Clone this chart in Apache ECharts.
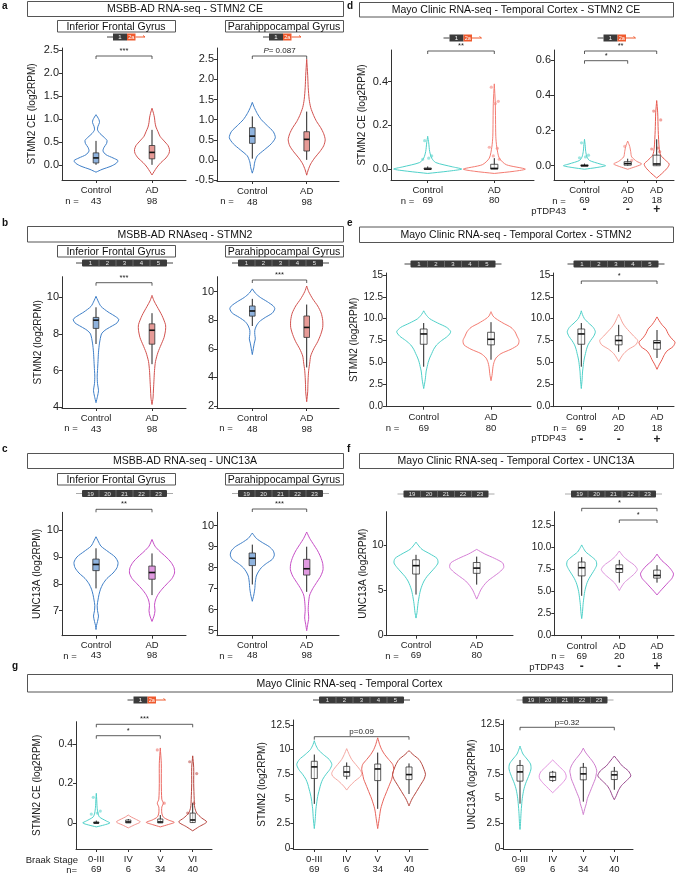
<!DOCTYPE html>
<html>
<head>
<meta charset="utf-8">
<script src="https://cdn.jsdelivr.net/npm/echarts@6.0.0/dist/echarts.min.js"></script>
<style>
  html, body { margin: 0; padding: 0; background: #fff; }
  #main { width: 676px; height: 874px; }
</style>
</head>
<body>
<div id="main"></div>
<script>
// ---------- groups and sample sizes
const msbbCats = ['Control', 'AD'];
const mayoCats = ['Control', 'AD'];
const tdpCats = ['Control', 'AD', 'AD'];
const tdpSigns = ['-', '-', '+'];
const braakCats = ['0-III', 'IV', 'V', 'VI'];
const ifgN = [43, 98];
const phgN = [48, 98];
const mayoN = [69, 80];
const tdpN = [69, 20, 18];
const braakN = [69, 6, 34, 40];

// ---------- box stats [min, q1, median, q3, max]
const ceIfgBox = [[0.0, 0.04, 0.15, 0.26, 0.52], [0.0, 0.13, 0.27, 0.42, 0.76]];
const cePhgBox = [[0.03, 0.41, 0.59, 0.8, 1.08], [0.0, 0.22, 0.51, 0.7, 1.2]];
const stIfgBox = [[7.45, 8.3, 8.75, 8.9, 9.45], [6.35, 7.44, 8.2, 8.55, 9.13]];
const stPhgBox = [[7.6, 8.29, 8.65, 9.0, 9.5], [4.7, 6.8, 7.5, 8.3, 9.1]];
const unIfgBox = [[7.83, 8.49, 8.72, 8.92, 9.32], [7.58, 8.17, 8.42, 8.66, 9.13]];
const unPhgBox = [[7.2, 8.1, 8.45, 8.7, 9.1], [6.85, 7.65, 7.95, 8.4, 9.0]];
const ceMayoBox = [[0, 0, 0, 0.005, 0.012], [0, 0, 0.003, 0.022, 0.05]];
const ceTdpBox = [[0, 0.003, 0.012, 0.023, 0.04], [0, 0, 0.01, 0.06, 0.15]];
const stMayoBox = [[4.5, 7.07, 8.25, 8.82, 9.5], [5.3, 7.0, 7.64, 8.44, 9.6]];
const stTdpBox = [[6.2, 7.0, 7.5, 8.05, 9.3], [5.5, 6.5, 7.25, 7.5, 8.7]];
const unMayoBox = [[4.5, 6.77, 7.7, 8.35, 8.9], [5.6, 6.85, 7.43, 8.05, 8.7]];
const unTdpBox = [[6.0, 7.16, 7.58, 8.03, 8.6], [6.0, 6.52, 6.82, 7.43, 8.0]];
const ceBraakBox = [[0, 0, 0.005, 0.015, 0.02], [0, 0, 0.005, 0.02, 0.04], [0, 0.002, 0.015, 0.05, 0.1]];
const stBraakBox = [[7.0, 7.3, 7.73, 8.3, 8.7], [4.0, 6.86, 8.04, 8.54, 9.7], [5.5, 6.96, 7.47, 8.24, 8.6]];
const unBraakBox = [[6.7, 6.83, 7.2, 7.67, 7.8], [4.7, 6.9, 7.5, 8.16, 8.6], [5.9, 6.93, 7.4, 7.76, 8.2]];

// ---------- visible outlying samples (STMN2 CE, Mayo)
const ceMayoCtrlPts = [0.13, 0.06, 0.05, 0.045];
const ceMayoAdPts = [0.375, 0.31, 0.3, 0.1, 0.095, 0.06, 0.045];
const ceTdpNegPts = [0.11, 0.03];
const ceTdpPosPts = [0.31, 0.26, 0.1, 0.095, 0.08];
const ceBraakVPts = [0.37, 0.1];
const ceBraakVIPts = [0.31, 0.25, 0.1, 0.05];

// ---------- violin outlines [value, relative half width]
const ceIfgCtrlV = [[-0.16,0],[-0.1,6],[-0.03,15],[0.03,20],[0.09,22],[0.15,17],[0.22,10],[0.3,7],[0.38,8],[0.46,10.5],[0.53,11],[0.6,8],[0.68,4],[0.76,1.5],[0.84,2],[0.92,3.5],[0.98,3],[1.04,1.5],[1.09,0]];
const ceIfgAdV = [[-0.22,0],[-0.15,2],[-0.05,5],[0.05,9],[0.15,14],[0.25,17],[0.33,17.5],[0.42,16],[0.52,12],[0.62,8],[0.72,6],[0.82,4],[0.92,3],[1.02,2.5],[1.12,1.5],[1.23,0]];
const cePhgCtrlV = [[-0.33,0],[-0.2,1.5],[-0.05,2.5],[0.1,5],[0.25,12],[0.4,19],[0.55,23],[0.7,21],[0.85,15],[1.0,9],[1.15,5],[1.3,2],[1.43,0]];
const cePhgAdV = [[-0.38,0],[-0.25,1.5],[-0.1,4],[0.05,8],[0.2,13],[0.35,17],[0.5,18.5],[0.65,17],[0.8,14],[0.95,10],[1.1,7],[1.3,4],[1.5,2.5],[1.8,1.5],[2.1,1],[2.5,0]];
const stIfgCtrlV = [[4.25,0],[4.6,1.5],[4.9,2.5],[5.3,1.5],[5.7,1.2],[6,1.5],[6.5,2],[7,2.5],[7.5,3.5],[8,5.5],[8.2,9],[8.4,15],[8.6,21],[8.8,22.7],[9,18],[9.2,12],[9.5,5],[9.8,2],[10.05,0]];
const stIfgAdV = [[4.15,0],[4.5,1],[5,1.5],[5.5,2],[6,2.5],[6.5,3.5],[7,6],[7.4,9],[7.8,12],[8.2,13.5],[8.5,13.5],[9,10],[9.5,5],[9.8,2],[10.1,0]];
const stPhgCtrlV = [[5.6,0],[6,1],[6.4,2],[6.7,3],[7,2.5],[7.3,2.5],[7.6,4],[7.9,7],[8.2,13],[8.5,20],[8.8,22.5],[9,21],[9.3,15],[9.6,8],[9.9,3],[10.2,0]];
const stPhgAdV = [[2.3,0],[3,1],[3.5,1.2],[4,1.5],[4.5,2],[5,3],[5.5,4],[6,7],[6.5,11],[7,14],[7.5,16],[8,16],[8.5,14.5],[9,11],[9.5,6],[10,2],[10.4,0]];
const unIfgCtrlV = [[6.3,0],[6.45,0.5],[6.6,1.5],[6.8,2.5],[7,1.5],[7.2,1.2],[7.4,2],[7.6,3],[7.8,4.5],[8,7],[8.2,11],[8.4,17],[8.6,21],[8.8,22],[9,19],[9.2,12],[9.4,5],[9.6,2],[9.75,0]];
const unIfgAdV = [[6.6,0],[6.8,2],[7,3],[7.2,2.5],[7.4,3.5],[7.6,6],[7.8,10],[8,15],[8.2,20],[8.4,22.5],[8.6,22],[8.8,19],[9,14],[9.2,8],[9.4,3],[9.65,0]];
const unPhgCtrlV = [[6.4,0],[6.7,1.5],[7,2.5],[7.3,3],[7.6,4],[7.8,6],[8,9],[8.2,14],[8.4,20],[8.6,22],[8.8,21],[9,17],[9.2,10],[9.4,4],[9.65,0]];
const unPhgAdV = [[5,0],[5.3,1],[5.6,2],[6,1.5],[6.4,2],[6.7,3],[7,6],[7.3,10],[7.6,14],[7.9,16.3],[8.2,16],[8.5,14],[8.8,11],[9.1,7],[9.4,3],[9.7,0]];
const ceMayoCtrlV = [[-0.02,0],[-0.01,20],[0,34],[0.01,25],[0.03,8],[0.05,4],[0.08,2],[0.12,1],[0.15,0]];
const ceMayoAdV = [[-0.02,0],[-0.01,20],[0,31],[0.02,12],[0.05,5],[0.1,2.5],[0.15,1.5],[0.3,1],[0.39,0]];
const ceTdpNegV = [[-0.02,0],[-0.005,8],[0.01,14],[0.025,9],[0.05,4],[0.08,3],[0.11,2],[0.14,0]];
const ceTdpPosV = [[-0.07,0],[-0.04,6],[-0.01,11],[0.01,12.5],[0.03,9],[0.06,4],[0.1,2.5],[0.2,1.5],[0.3,1],[0.37,0]];
const stMayoCtrlV = [[2,0],[3,1.5],[4,2.5],[4.5,3.5],[5,4.5],[5.5,6],[6,8],[6.5,10],[7,13],[7.5,18],[8,24],[8.5,27],[9,23],[9.5,14],[10,6],[10.5,2],[10.9,0]];
const stMayoAdV = [[2.9,0],[3.5,1],[4,1.5],[4.5,2],[5,3],[5.5,5],[6,10],[6.5,20],[7,27],[7.5,28],[8,26],[8.5,24],[9,20],[9.5,12],[10,5],[10.3,2],[10.8,0]];
const stTdpNegV = [[5.1,0],[5.5,2],[6,5],[6.5,10],[7,17],[7.5,19],[8,15],[8.5,11],[9,7],[9.5,4],[10,2],[10.5,0]];
const stTdpPosV = [[4.2,0],[4.8,2.5],[5.3,5],[5.8,7],[6.3,10],[6.8,16],[7.3,18],[7.8,14],[8.3,11],[8.8,9],[9.3,5],[9.8,2],[10.2,0]];
const unMayoCtrlV = [[1.9,0],[2.5,1],[3.5,2],[4.5,3.5],[5,4.5],[5.5,6],[6,8],[6.5,11],[7,15],[7.5,19],[8,22],[8.5,21],[9,14],[9.5,6],[10,2],[10.3,0]];
const unMayoAdV = [[4,0],[4.5,2],[5,4],[5.5,7],[6,11],[6.5,17],[7,23],[7.5,27],[8,26],[8.5,18],[9,8],[9.5,0]];
const unTdpNegV = [[5.1,0],[5.5,2],[6,5],[6.5,10],[7,15],[7.5,18],[8,15],[8.5,9],[9,4],[9.6,0]];
const unTdpPosV = [[4.6,0],[5,3],[5.5,7],[6,11],[6.5,15],[7,16.5],[7.5,14],[8,10],[8.5,5],[9,1.5],[9.25,0]];
const ceBraakIVV = [[-0.025,0],[-0.01,6],[0.005,12],[0.02,7],[0.03,3],[0.04,0]];
const ceBraakVV = [[-0.02,0],[-0.008,8],[0.003,14],[0.015,8],[0.03,3],[0.05,1.5],[0.08,1.5],[0.1,3],[0.12,1.5],[0.2,1],[0.3,1],[0.38,0]];
const ceBraakVIV = [[-0.04,0],[-0.02,6],[0.005,14],[0.025,9],[0.05,4],[0.08,2],[0.12,1.5],[0.2,1],[0.28,1],[0.34,0]];
const stBraakIVV = [[5.9,0],[6.3,3],[6.8,8],[7.3,14],[7.6,15],[8,13],[8.5,9],[9,5],[9.5,2.5],[10.1,0]];
const stBraakVV = [[2,0],[3,1.5],[4,3],[5,6],[5.5,8],[6,10],[6.5,12],[7,14],[7.5,15],[8,16],[8.5,15],[9,11],[9.5,7],[10,4],[10.5,2],[11.2,0]];
const stBraakVIV = [[4.3,0],[5,3],[5.5,6],[6,9],[6.5,12],[7,15],[7.5,16.5],[8,15],[8.5,13],[9,10],[9.5,4],[9.9,0]];
const unBraakIVV = [[5.6,0],[6,4],[6.5,9],[7,13],[7.3,13.5],[7.7,12],[8.2,7],[8.6,3],[8.9,0]];
const unBraakVV = [[3.4,0],[4,1.5],[4.5,3],[5,4],[5.5,6],[6,8],[6.5,10],[7,12],[7.5,13],[7.8,13.5],[8.3,12],[8.8,9],[9.3,5],[9.7,2],[10.1,0]];
const unBraakVIV = [[4.9,0],[5.3,2],[5.8,4],[6.3,7],[6.8,12],[7.3,16.5],[7.8,14],[8.3,8],[8.8,4],[9.3,0]];

// ---------- styles
const FONT = '"Liberation Sans", Arial, Helvetica, sans-serif';
const cBlue = '#3F7FC8', fBlue = '#8FB3DE', cRed = '#D2514E', fRed = '#E69A96';
const cMag = '#C64CC6', fMag = '#E09AE0';
const cCyan = '#4FD1C9', cSalmon = '#F47C72', cRed2 = '#E85A50';
const cOrchid = '#D67FD6', cOrchidL = '#DD94DD', cMagenta = '#C752C7';
const mayoFill = 'rgba(255,255,255,0.6)';

const f1 = v => v.toFixed(1);
const f0 = v => String(v);

const panels = [
  { left: 62, top: 48, right: 186, bottom: 180, yMin: -0.33, yMax: 2.54, ticks: [0, 0.5, 1, 1.5, 2, 2.5], fmt: f1, fs: 11,
    xs: [96, 152], cats: msbbCats, n: ifgN, violins: [ceIfgCtrlV, ceIfgAdV], boxes: ceIfgBox,
    colors: [cBlue, cRed], fills: [fBlue, fRed], boxHalf: 2.8, lh: 10.7,
    yName: 'STMN2 CE (log2RPM)', nameDist: 30, brackets: [[0, 1, 56, '***']], rows: [['n =', 72, 201, 'center']] },
  { left: 217, top: 48, right: 339, bottom: 181, yMin: -0.525, yMax: 2.78, ticks: [-0.5, 0, 0.5, 1, 1.5, 2, 2.5], fmt: f1, fs: 11,
    xs: [252.3, 306.7], cats: msbbCats, n: phgN, violins: [cePhgCtrlV, cePhgAdV], boxes: cePhgBox,
    colors: [cBlue, cRed], fills: [fBlue, fRed], boxHalf: 2.8, lh: 10.7,
    brackets: [[0, 1, 56, '{i|P}= 0.087']], rows: [['n =', 227, 201, 'center']] },
  { left: 62, top: 276.7, right: 186, bottom: 408, yMin: 3.96, yMax: 11.12, ticks: [4, 6, 8, 10], fmt: f0, fs: 11,
    xs: [96, 152], cats: msbbCats, n: ifgN, violins: [stIfgCtrlV, stIfgAdV], boxes: stIfgBox,
    colors: [cBlue, cRed], fills: [fBlue, fRed], boxHalf: 2.8, lh: 10.7,
    yName: 'STMN2 (log2RPM)', nameDist: 23, brackets: [[0, 1, 282.7, '***']], rows: [['n =', 71, 428, 'center']] },
  { left: 217, top: 276.7, right: 339, bottom: 408, yMin: 1.86, yMax: 11.05, ticks: [2, 4, 6, 8, 10], fmt: f0, fs: 11,
    xs: [252.3, 306.7], cats: msbbCats, n: phgN, violins: [stPhgCtrlV, stPhgAdV], boxes: stPhgBox,
    colors: [cBlue, cRed], fills: [fBlue, fRed], boxHalf: 2.8, lh: 10.7,
    brackets: [[0, 1, 280, '***']], rows: [['n =', 226, 428, 'center']] },
  { left: 62, top: 512.3, right: 186, bottom: 635.7, yMin: 6.07, yMax: 10.66, ticks: [7, 8, 9, 10], fmt: f0, fs: 11,
    xs: [96, 152], cats: msbbCats, n: ifgN, violins: [unIfgCtrlV, unIfgAdV], boxes: unIfgBox,
    colors: [cBlue, cMag], fills: [fBlue, fMag], boxHalf: 3.2, lh: 10,
    yName: 'UNC13A (log2RPM)', nameDist: 24.5, brackets: [[0, 1, 509.3, '**']], rows: [['n =', 70, 656, 'center']] },
  { left: 217, top: 512.3, right: 339, bottom: 635.7, yMin: 4.76, yMax: 10.64, ticks: [5, 6, 7, 8, 9, 10], fmt: f0, fs: 11,
    xs: [252.3, 306.7], cats: msbbCats, n: phgN, violins: [unPhgCtrlV, unPhgAdV], boxes: unPhgBox,
    colors: [cBlue, cMag], fills: [fBlue, fMag], boxHalf: 3.2, lh: 10,
    brackets: [[0, 1, 509, '***']], rows: [['n =', 226, 656, 'center']] },
  { left: 391, top: 50, right: 534, bottom: 180, yMin: -0.05, yMax: 0.545, ticks: [0, 0.2, 0.4], fmt: f1, fs: 11,
    xs: [427.7, 494.3], cats: mayoCats, n: mayoN, violins: [ceMayoCtrlV, ceMayoAdV], boxes: ceMayoBox,
    pts: [ceMayoCtrlPts, ceMayoAdPts],
    colors: [cCyan, cSalmon], boxHalf: 3.6, lh: 10.3,
    yName: 'STMN2 CE (log2RPM)', nameDist: 29, brackets: [[0, 1, 51, '**']], rows: [['n =', 407.5, 201, 'center']] },
  { left: 554, top: 50, right: 674, bottom: 180, yMin: -0.081, yMax: 0.657, ticks: [0, 0.2, 0.4, 0.6], fmt: f1, fs: 11,
    xs: [584.5, 627.7, 656.7], cats: tdpCats, n: tdpN, signs: tdpSigns,
    violins: [ceMayoCtrlV, ceTdpNegV, ceTdpPosV], boxes: [ceMayoBox[0], ceTdpBox[0], ceTdpBox[1]], wScale: [0.62, 1, 1],
    pts: [ceMayoCtrlPts, ceTdpNegPts, ceTdpPosPts],
    colors: [cCyan, '#F4877E', cRed2], boxHalf: 3.6, lh: 10,
    brackets: [[0, 2, 51, '**'], [0, 1, 60.7, '*']], rows: [['n =', 559, 201, 'center'], ['pTDP43', 566, 211.5, 'right']] },
  { left: 386, top: 273, right: 531, bottom: 406.7, yMin: -0.08, yMax: 15.23, ticks: [0, 2.5, 5, 7.5, 10, 12.5, 15],
    fmt: v => (v === 15 ? '15' : v.toFixed(1)), fs: 10,
    xs: [423.7, 491], cats: mayoCats, n: mayoN, violins: [stMayoCtrlV, stMayoAdV], boxes: stMayoBox,
    colors: [cCyan, cSalmon], boxHalf: 3.4, lh: 11,
    yName: 'STMN2 (log2RPM)', nameDist: 27, rows: [['n =', 392.5, 428, 'center']] },
  { left: 553.3, top: 273, right: 674, bottom: 406.7, yMin: -0.08, yMax: 15.23, ticks: [0, 2.5, 5, 7.5, 10, 12.5, 15],
    fmt: v => (v === 15 ? '15' : v.toFixed(1)), fs: 10,
    xs: [581.3, 618.7, 657], cats: tdpCats, n: tdpN, signs: tdpSigns,
    violins: [stMayoCtrlV, stTdpNegV, stTdpPosV], boxes: [stMayoBox[0], stTdpBox[0], stTdpBox[1]], wScale: [0.52, 1, 1],
    colors: [cCyan, '#F6A39B', cRed2], boxHalf: 3.4, lh: 11,
    brackets: [[0, 2, 281, '*']], rows: [['n =', 560, 428, 'center'], ['pTDP43', 566, 438.5, 'right']] },
  { left: 386.7, top: 511.7, right: 513, bottom: 635.7, yMin: -0.05, yMax: 13.67, ticks: [0, 5, 10], fmt: f0, fs: 10.5,
    xs: [416, 476.7], cats: mayoCats, n: mayoN, violins: [unMayoCtrlV, unMayoAdV], boxes: unMayoBox,
    colors: [cCyan, cOrchid], boxHalf: 3.4, lh: 10,
    yName: 'UNC13A (log2RPM)', nameDist: 20, rows: [['n =', 392, 656, 'center']] },
  { left: 554.3, top: 511.7, right: 674, bottom: 635.7, yMin: -0.05, yMax: 14.09, ticks: [0, 2.5, 5, 7.5, 10, 12.5], fmt: f1, fs: 10,
    xs: [581.7, 619.3, 657], cats: tdpCats, n: tdpN, signs: tdpSigns,
    violins: [unMayoCtrlV, unTdpNegV, unTdpPosV], boxes: [unMayoBox[0], unTdpBox[0], unTdpBox[1]], wScale: [0.68, 1, 1],
    colors: [cCyan, cOrchidL, cMagenta], boxHalf: 3.4, lh: 10.5,
    brackets: [[0, 2, 508.3, '*'], [1, 2, 520, '*']], rows: [['n =', 558, 656, 'center'], ['pTDP43', 564, 667, 'right']] },
  { left: 76, top: 721.7, right: 212, bottom: 850.7, yMin: -0.132, yMax: 0.513, ticks: [0, 0.2, 0.4],
    fmt: v => (v === 0 ? '0' : v.toFixed(1)), fs: 10.5,
    xs: [96.3, 128.3, 160.3, 192.7], cats: braakCats, n: braakN,
    violins: [ceMayoCtrlV, ceBraakIVV, ceBraakVV, ceBraakVIV], boxes: [ceMayoBox[0]].concat(ceBraakBox), wScale: [0.4, 1, 1, 1],
    pts: [ceMayoCtrlPts, [], ceBraakVPts, ceBraakVIPts],
    colors: [cCyan, '#F29590', '#EC6A63', '#B8463F'], boxHalf: 2.6, lh: 10,
    yName: 'STMN2 CE (log2RPM)', nameDist: 38.5, brackets: [[0, 3, 724.3, '***'], [0, 2, 735.7, '*']],
    rows: [['Braak Stage', 78, 860, 'right'], ['n=', 77, 870, 'right']] },
  { left: 293.3, top: 720, right: 428, bottom: 850, yMin: -0.07, yMax: 13.0, ticks: [0, 2.5, 5, 7.5, 10, 12.5], fmt: f0, fs: 10,
    xs: [314.3, 346.7, 377.7, 409], cats: braakCats, n: braakN,
    violins: [stMayoCtrlV, stBraakIVV, stBraakVV, stBraakVIV], boxes: [stMayoBox[0]].concat(stBraakBox), wScale: [0.65, 1, 1, 1],
    colors: [cCyan, '#F5A8A2', '#E8645C', '#B5473F'], boxHalf: 3, lh: 10,
    yName: 'STMN2 (log2RPM)', nameDist: 19.5, brackets: [[0, 3, 736.7, 'p=0.09']] },
  { left: 503.3, top: 720, right: 633, bottom: 850, yMin: -0.07, yMax: 12.93, ticks: [0, 2.5, 5, 7.5, 10, 12.5], fmt: f0, fs: 10,
    xs: [520, 552.7, 583.3, 614.3], cats: braakCats, n: braakN,
    violins: [unMayoCtrlV, unBraakIVV, unBraakVV, unBraakVIV], boxes: [unMayoBox[0]].concat(unBraakBox), wScale: [0.5, 1, 1, 1],
    colors: [cCyan, '#E394E0', '#D07FCF', '#99498F'], boxHalf: 3, lh: 10,
    yName: 'UNC13A (log2RPM)', nameDist: 26, brackets: [[0, 3, 727.3, 'p=0.32']] }
];

const grids = [], xAxes = [], yAxes = [], series = [], graphics = [];

function nearestIdx(arr, v) {
  let best = 0;
  arr.forEach((a, i) => { if (Math.abs(a - v) < Math.abs(arr[best] - v)) best = i; });
  return best;
}

panels.forEach((p, k) => {
  const w = p.right - p.left, h = p.bottom - p.top;
  const xs = p.xs.map(x => x - p.left);
  grids.push({ left: p.left, top: p.top, width: w, height: h });
  xAxes.push({
    type: 'value', gridIndex: k, min: 0, max: w,
    axisLine: { show: true, onZero: false, lineStyle: { color: '#333', width: 1 } },
    axisTick: { show: true, customValues: xs, length: 3, lineStyle: { color: '#333' } },
    axisLabel: {
      customValues: xs, margin: 5, fontSize: 9.5, color: '#222', fontFamily: FONT, lineHeight: p.lh,
      formatter: v => {
        const i = nearestIdx(xs, v);
        let s = p.cats[i] + '\n' + p.n[i];
        if (p.signs) s += '\n{s|' + p.signs[i] + '}';
        return s;
      },
      rich: { s: { fontSize: 12, fontWeight: 'bold', lineHeight: p.lh, fontFamily: FONT, color: '#222' } }
    },
    splitLine: { show: false }
  });
  yAxes.push({
    type: 'value', gridIndex: k, min: p.yMin, max: p.yMax,
    name: p.yName || '', nameLocation: 'middle', nameGap: (p.nameDist || 20) - 5,
    nameTextStyle: { fontSize: 10, fontFamily: FONT, color: '#222' },
    axisLine: { show: true, onZero: false, lineStyle: { color: '#333', width: 1 } },
    axisTick: { show: true, customValues: p.ticks, length: 3, lineStyle: { color: '#333' } },
    axisLabel: { customValues: p.ticks, formatter: v => p.fmt(v), fontSize: p.fs, margin: 3, color: '#222', fontFamily: FONT },
    splitLine: { show: false }
  });

  series.push({
    type: 'custom', xAxisIndex: k, yAxisIndex: k, silent: true,
    data: p.boxes.map((b, i) => [xs[i], b[2], i]),
    encode: { x: 0, y: 1 },
    renderItem: (params, api) => {
      const x0 = api.value(0), i = api.value(2);
      const prof = p.violins[i];
      const sc = p.wScale ? p.wScale[i] : 1;
      const right = prof.map(([v, hw]) => api.coord([x0 + hw * sc, v]));
      const left = prof.slice().reverse().map(([v, hw]) => api.coord([x0 - hw * sc, v]));
      const b = p.boxes[i];
      const cx = api.coord([x0, b[2]])[0];
      const y = v => api.coord([x0, v])[1];
      const bw = p.boxHalf;
      const top = y(b[3]), bot = y(b[1]);
      const kids = [
        { type: 'polygon', shape: { points: right.concat(left), smooth: 0.25 },
          style: { fill: 'rgba(255,255,255,0)', stroke: p.colors[i], lineWidth: 1 } }
      ];
      // a few individual samples, spread sideways by a fixed pattern
      ((p.pts && p.pts[i]) || []).forEach((v, j) => {
        const off = [-3, 4, 1, -5, 3, -1, 5][j % 7];
        const c = api.coord([x0 + off, v]);
        kids.push({ type: 'circle', shape: { cx: c[0], cy: c[1], r: 1.6 }, style: { fill: p.colors[i], opacity: 0.55 } });
      });
      kids.push(
        { type: 'line', shape: { x1: cx, y1: y(b[0]), x2: cx, y2: y(b[4]) }, style: { stroke: '#222', lineWidth: 1 } },
        { type: 'rect', shape: { x: cx - bw, y: top, width: 2 * bw, height: Math.max(1.2, bot - top) },
          style: { fill: p.fills ? p.fills[i] : mayoFill, stroke: '#333', lineWidth: 0.8 } },
        { type: 'line', shape: { x1: cx - bw, y1: y(b[2]), x2: cx + bw, y2: y(b[2]) }, style: { stroke: '#111', lineWidth: 1.6 } }
      );
      return { type: 'group', children: kids };
    }
  });

  (p.brackets || []).forEach(([i, j, yb, label]) => {
    const x1 = p.xs[i], x2 = p.xs[j];
    graphics.push({ type: 'polyline', silent: true,
      shape: { points: [[x1, yb + 3], [x1, yb], [x2, yb], [x2, yb + 3]] },
      style: { stroke: '#333', fill: null, lineWidth: 0.8 } });
    graphics.push({ type: 'text', silent: true, x: (x1 + x2) / 2, y: yb - 1,
      style: { text: label, fontSize: label.length > 3 ? 8 : 7.5, fontFamily: FONT, fill: '#222', align: 'center', verticalAlign: 'bottom',
        rich: { i: { fontStyle: 'italic', fontSize: 8, fontFamily: FONT, fill: '#222' } } } });
  });

  (p.rows || []).forEach(([t, x, yy, al]) => {
    graphics.push({ type: 'text', silent: true, x: x, y: yy,
      style: { text: t, fontSize: 9.5, fontFamily: FONT, fill: '#222', align: al, verticalAlign: 'middle' } });
  });
});

// ---------- title boxes, letters and gene sketches
function titleBox(x, y, w, h, text) {
  graphics.push({ type: 'rect', silent: true, shape: { x: x + 0.5, y: y + 0.5, width: w, height: h },
    style: { fill: '#fff', stroke: '#555', lineWidth: 1 } });
  graphics.push({ type: 'text', silent: true, x: x + w / 2, y: y + h / 2 + 1,
    style: { text: text, fontSize: 10.5, fontFamily: FONT, fill: '#111', align: 'center', verticalAlign: 'middle' } });
}
function letter(x, y, t) {
  graphics.push({ type: 'text', silent: true, x: x, y: y,
    style: { text: t, fontSize: 10, fontWeight: 'bold', fontFamily: FONT, fill: '#111', align: 'left', verticalAlign: 'middle' } });
}
function geneCE(cx, cy) {
  graphics.push({ type: 'group', silent: true, x: cx, y: cy, children: [
    { type: 'line', shape: { x1: -19, y1: 0, x2: -13, y2: 0 }, style: { stroke: '#444', lineWidth: 1 } },
    { type: 'rect', shape: { x: -13, y: -3.5, width: 14, height: 7 }, style: { fill: '#3b3b3b' } },
    { type: 'text', x: -6, y: 0.5, style: { text: '1', fill: '#fff', fontSize: 6, fontFamily: FONT, align: 'center', verticalAlign: 'middle' } },
    { type: 'rect', shape: { x: 1, y: -3.5, width: 8.5, height: 7 }, style: { fill: '#EF5A2E' } },
    { type: 'text', x: 5.25, y: 0.5, style: { text: '2a', fill: '#fff', fontSize: 5.5, fontFamily: FONT, align: 'center', verticalAlign: 'middle' } },
    { type: 'line', shape: { x1: 9.5, y1: 0, x2: 19, y2: 0 }, style: { stroke: '#EF5A2E', lineWidth: 1 } },
    { type: 'line', shape: { x1: 17, y1: -1.5, x2: 19, y2: 0 }, style: { stroke: '#EF5A2E', lineWidth: 1 } }
  ] });
}
function geneExons(cx, cy, labels, endColor) {
  const ex = 17, half = ex * labels.length / 2;
  const kids = [
    { type: 'line', shape: { x1: -half - 6, y1: 0, x2: half + 6, y2: 0 }, style: { stroke: endColor, lineWidth: 1 } },
    { type: 'rect', shape: { x: -half, y: -3.5, width: 2 * half, height: 7, r: 1 }, style: { fill: '#3b3b3b' } }
  ];
  labels.forEach((t, i) => {
    const x = -half + ex * i;
    if (i > 0) kids.push({ type: 'line', shape: { x1: x, y1: -3.5, x2: x, y2: 3.5 }, style: { stroke: '#888', lineWidth: 0.6 } });
    kids.push({ type: 'text', x: x + ex / 2, y: 0.5, style: { text: t, fill: '#e8e8e8', fontSize: 6, fontFamily: FONT, align: 'center', verticalAlign: 'middle' } });
  });
  graphics.push({ type: 'group', silent: true, x: cx, y: cy, children: kids });
}
const stmn2Exons = ['1', '2', '3', '4', '5'];
const unc13aExons = ['19', '20', '21', '22', '23'];

titleBox(27, 1, 316, 15, 'MSBB-AD RNA-seq - STMN2 CE');
titleBox(359, 2, 314, 14.5, 'Mayo Clinic RNA-seq - Temporal Cortex - STMN2 CE');
titleBox(27, 226, 316, 15.5, 'MSBB-AD RNAseq - STMN2');
titleBox(359, 226.5, 314, 15.5, 'Mayo Clinic RNA-seq - Temporal Cortex - STMN2');
titleBox(27, 453, 316, 15, 'MSBB-AD RNA-seq - UNC13A');
titleBox(359, 453, 314, 15, 'Mayo Clinic RNA-seq - Temporal Cortex - UNC13A');
titleBox(27, 674, 645, 17.5, 'Mayo Clinic RNA-seq - Temporal Cortex');
[[20, 'Inferior Frontal Gyrus', 57], [20, 'Parahippocampal Gyrus', 225],
 [245, 'Inferior Frontal Gyrus', 57], [245, 'Parahippocampal Gyrus', 225],
 [473, 'Inferior Frontal Gyrus', 57], [473, 'Parahippocampal Gyrus', 225]].forEach(([y, t, x]) => titleBox(x, y, 118, 11.5, t));

letter(2, 6, 'a'); letter(2, 223, 'b'); letter(2, 449, 'c');
letter(347, 6, 'd'); letter(347, 223, 'e'); letter(347, 449, 'f'); letter(12, 666, 'g');

geneCE(126, 37); geneCE(282, 37); geneCE(462.5, 38); geneCE(616.5, 38); geneCE(146.5, 700);
geneExons(124.5, 263, stmn2Exons, '#444'); geneExons(280.5, 263, stmn2Exons, '#444');
geneExons(453, 264, stmn2Exons, '#444'); geneExons(616, 264, stmn2Exons, '#444'); geneExons(361.5, 700, stmn2Exons, '#444');
geneExons(124.5, 493.5, unc13aExons, '#aaa'); geneExons(280.5, 493.5, unc13aExons, '#aaa');
geneExons(446, 494, unc13aExons, '#aaa'); geneExons(613.5, 494, unc13aExons, '#aaa'); geneExons(565, 700, unc13aExons, '#aaa');

const chart = echarts.init(document.getElementById('main'), null, { renderer: 'canvas' });
chart.setOption({
  animation: false,
  backgroundColor: '#fff',
  textStyle: { fontFamily: FONT },
  grid: grids,
  xAxis: xAxes,
  yAxis: yAxes,
  series: series,
  graphic: graphics
});
</script>
</body>
</html>
